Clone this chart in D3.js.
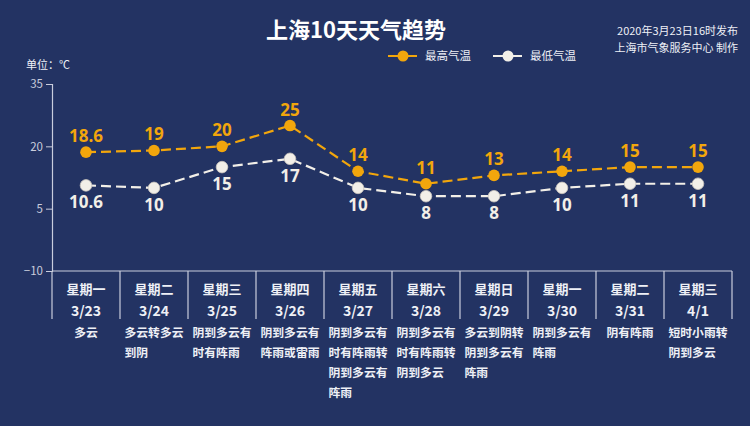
<!DOCTYPE html>
<html>
<head>
<meta charset="utf-8">
<script src="https://cdn.jsdelivr.net/npm/d3@7"></script>
<style>
  html, body { margin: 0; padding: 0; background: #233363; }
  svg { display: block; font-family: "Noto Sans CJK SC", "Noto Sans", sans-serif; }
</style>
</head>
<body>
<svg id="chart" width="750" height="426"></svg>
<script>
// data
const weekdays = ["星期一", "星期二", "星期三", "星期四", "星期五", "星期六", "星期日", "星期一", "星期二", "星期三"];
const dates = ["3/23", "3/24", "3/25", "3/26", "3/27", "3/28", "3/29", "3/30", "3/31", "4/1"];
const weather = [
  "多云",
  "多云转多云到阴",
  "阴到多云有时有阵雨",
  "阴到多云有阵雨或雷雨",
  "阴到多云有时有阵雨转阴到多云有阵雨",
  "阴到多云有时有阵雨转阴到多云",
  "多云到阴转阴到多云有阵雨",
  "阴到多云有阵雨",
  "阴有阵雨",
  "短时小雨转阴到多云"
];
const highTemps = [18.6, 19, 20, 25, 14, 11, 13, 14, 15, 15];
const lowTemps = [10.6, 10, 15, 17, 10, 8, 8, 10, 11, 11];
const yTicks = [-10, 5, 20, 35];

const orange = "#f2a60c";
const white = "#f2efe8";
const textColor = "#eef0f6";
const axisColor = "#c9cddd";

const svg = d3.select("#chart");

/**
 * Scales
 */
const x = d3.scaleBand().domain(dates).range([52, 732]);
const y = d3.scaleLinear().domain([-10, 35]).range([271, 84]);
const cx = d => x(d) + x.bandwidth() / 2;

/**
 * Title and notes
 */
svg.append("text")
  .attr("x", 356).attr("y", 38)
  .attr("text-anchor", "middle")
  .attr("fill", "#ffffff")
  .attr("font-size", 22).attr("font-weight", "bold")
  .text("上海10天天气趋势");

svg.append("text")
  .attr("x", 738).attr("y", 35)
  .attr("text-anchor", "end")
  .attr("fill", textColor).attr("font-size", 11)
  .text("2020年3月23日16时发布");

svg.append("text")
  .attr("x", 738).attr("y", 52)
  .attr("text-anchor", "end")
  .attr("fill", textColor).attr("font-size", 11)
  .text("上海市气象服务中心 制作");

svg.append("text")
  .attr("x", 26).attr("y", 69)
  .attr("fill", textColor).attr("font-size", 11)
  .text("单位：℃");

/**
 * Legend
 */
const legend = [
  {name: "最高气温", color: orange, x: 388},
  {name: "最低气温", color: white, x: 493}
];
const lg = svg.selectAll(".legend").data(legend).enter()
  .append("g")
  .attr("class", "legend")
  .attr("transform", d => "translate(" + d.x + ",56)");
lg.append("line")
  .attr("x1", 0).attr("x2", 29)
  .attr("stroke", d => d.color).attr("stroke-width", 2);
lg.append("circle")
  .attr("cx", 15).attr("r", 5.5)
  .attr("fill", d => d.color);
lg.append("text")
  .attr("x", 37).attr("y", 4)
  .attr("fill", textColor).attr("font-size", 11.5)
  .text(d => d.name);

/**
 * Y axis
 */
const yAxis = svg.append("g")
  .attr("transform", "translate(52,0)")
  .call(d3.axisLeft(y).tickValues(yTicks).tickSize(6).tickPadding(3));
yAxis.select(".domain").attr("stroke", axisColor).attr("stroke-width", 1.2);
yAxis.selectAll(".tick line").attr("stroke", axisColor);
yAxis.selectAll(".tick text")
  .attr("fill", axisColor)
  .attr("font-size", 11.5)
  .attr("font-family", "\"Noto Sans CJK SC\", sans-serif");

/**
 * Category table under the plot
 */
svg.append("line")
  .attr("x1", 52).attr("x2", 732)
  .attr("y1", y(-10)).attr("y2", y(-10))
  .attr("stroke", axisColor).attr("stroke-width", 1.2);

const bounds = dates.map(d => x(d)).concat([x.range()[1]]);
svg.selectAll(".sep").data(bounds).enter()
  .append("line")
  .attr("class", "sep")
  .attr("x1", d => d).attr("x2", d => d)
  .attr("y1", y(-10)).attr("y2", 319)
  .attr("stroke", axisColor).attr("stroke-width", 1.2);

svg.selectAll(".weekday").data(dates).enter()
  .append("text")
  .attr("class", "weekday")
  .attr("x", d => cx(d)).attr("y", 294)
  .attr("text-anchor", "middle")
  .attr("fill", textColor)
  .attr("font-size", 13).attr("font-weight", "bold")
  .text((d, i) => weekdays[i]);

svg.selectAll(".date").data(dates).enter()
  .append("text")
  .attr("class", "date")
  .attr("x", d => cx(d)).attr("y", 316)
  .attr("text-anchor", "middle")
  .attr("fill", textColor)
  .attr("font-size", 14).attr("font-weight", "bold")
  .text(d => d);

// wrap weather texts every 5 characters, block centred, lines left aligned
const fs = 11.8;
function wrap(s) {
  let lines = [];
  for (let i = 0; i < s.length; i += 5) lines.push(s.slice(i, i + 5));
  return lines;
}
const desc = svg.selectAll(".desc").data(dates).enter()
  .append("text")
  .attr("class", "desc")
  .attr("fill", textColor)
  .attr("font-size", fs).attr("font-weight", "bold");
desc.each(function(d, i) {
  const lines = wrap(weather[i]);
  const widest = d3.max(lines, l => l.length);
  const left = cx(d) - widest * fs / 2;
  d3.select(this).selectAll("tspan").data(lines).enter()
    .append("tspan")
    .attr("x", left)
    .attr("y", (l, j) => 337 + j * 20)
    .text(l => l);
});

/**
 * Lines, points and labels
 */
const line = d3.line().x((v, i) => cx(dates[i])).y(v => y(v));

function series(values, color, labelAbove) {
  svg.append("path")
    .datum(values)
    .attr("d", line)
    .attr("fill", "none")
    .attr("stroke", color)
    .attr("stroke-width", 2.2)
    .attr("stroke-dasharray", "10,5");

  svg.selectAll(null).data(values).enter()
    .append("circle")
    .attr("cx", (v, i) => cx(dates[i]))
    .attr("cy", v => y(v))
    .attr("r", 5.8)
    .attr("fill", color)
    .attr("stroke", labelAbove ? "none" : "#c9c4bc")
    .attr("stroke-width", 0.8);

  svg.selectAll(null).data(values).enter()
    .append("text")
    .attr("x", (v, i) => cx(dates[i]))
    .attr("y", v => labelAbove ? y(v) - 10 : y(v) + 23)
    .attr("text-anchor", "middle")
    .attr("fill", color)
    .attr("font-size", 17).attr("font-weight", "bold")
    .attr("font-family", "\"Open Sans\", \"Noto Sans\", sans-serif")
    .text(v => v);
}

series(lowTemps, white, false);
series(highTemps, orange, true);
</script>
</body>
</html>
